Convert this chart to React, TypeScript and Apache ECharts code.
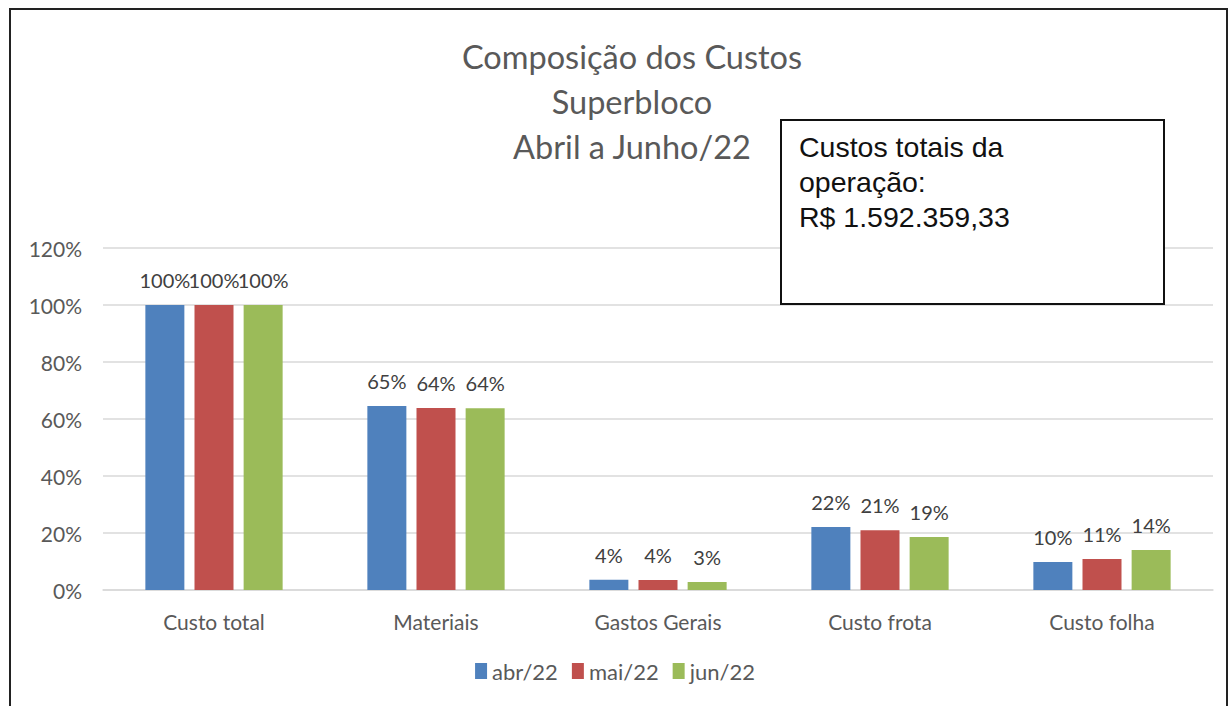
import React, { useEffect, useRef } from "react";
import * as echarts from "echarts";

const categories = ["Custo total", "Materiais", "Gastos Gerais", "Custo frota", "Custo folha"];
const seriesNames = ["abr/22", "mai/22", "jun/22"];
const abr22 = [100, 64.6, 3.6, 22.1, 9.8];
const mai22 = [100, 63.9, 3.5, 21.0, 10.9];
const jun22 = [100, 63.8, 2.8, 18.6, 14.0];
const colors = ["#4f81bd", "#c0504d", "#9bbb59"];
const titleLines = ["Composição dos Custos", "Superbloco", "Abril a Junho/22"];
const boxLines = ["Custos totais da", "operação:", "R$ 1.592.359,33"];

const FONT = "Lato, 'Open Sans', sans-serif";

export default function App() {
  const ref = useRef<HTMLDivElement>(null);
  useEffect(() => {
    if (!ref.current) return;
    const chart = echarts.init(ref.current, undefined, { renderer: "svg" });
    const values = [abr22, mai22, jun22];
    chart.setOption({
      animation: false,
      backgroundColor: "#ffffff",
      textStyle: { fontFamily: FONT },
      title: {
        text: titleLines.join("\n"),
        left: 627,
        top: 29,
        textAlign: "center",
        textStyle: { fontFamily: FONT, fontSize: 32.5, fontWeight: "normal", color: "#595959", lineHeight: 45 },
      },
      legend: {
        data: seriesNames,
        bottom: 19,
        left: "center",
        itemWidth: 12,
        itemHeight: 16,
        itemGap: 14,
        icon: "rect",
        textStyle: { fontFamily: FONT, fontSize: 22, color: "#595959" },
      },
      grid: { left: 103, right: 17, top: 248, bottom: 116, containLabel: false },
      xAxis: {
        type: "category",
        data: categories,
        axisLine: { lineStyle: { color: "#d9d9d9", width: 1.5 } },
        axisTick: { show: false },
        axisLabel: { fontFamily: FONT, fontSize: 21, color: "#595959", margin: 21 },
      },
      yAxis: {
        type: "value",
        min: 0,
        max: 120,
        interval: 20,
        axisLabel: { fontFamily: FONT, fontSize: 21, color: "#595959", formatter: "{value}%", margin: 21 },
        splitLine: { lineStyle: { color: "#d9d9d9", width: 1.5 } },
        axisLine: { show: false },
        axisTick: { show: false },
      },
      series: seriesNames.map((name, i) => ({
        name,
        type: "bar",
        data: values[i],
        barWidth: 39,
        barGap: "26%",
        itemStyle: { color: colors[i] },
        label: {
          show: true,
          position: "top",
          distance: 15,
          fontFamily: FONT,
          fontSize: 20,
          color: "#404040",
          formatter: (p: any) => `${Number(p.value).toFixed(0)}%`,
        },
      })),
      graphic: [
        {
          type: "rect",
          shape: { x: 10, y: 9, width: 1217, height: 720 },
          style: { fill: "none", stroke: "#222222", lineWidth: 2 },
          silent: true,
          z: 100,
        },
        {
          type: "rect",
          shape: { x: 781, y: 120, width: 383, height: 184 },
          style: { fill: "#ffffff", stroke: "#111111", lineWidth: 2 },
          z: 100,
        },
        {
          type: "text",
          x: 799,
          y: 129,
          z: 101,
          style: {
            text: boxLines.join("\n"),
            font: "28.5px 'Liberation Sans', Arial, sans-serif",
            fill: "#111111",
            lineHeight: 35,
          },
        },
      ],
    });
    return () => chart.dispose();
  }, []);
  return <div ref={ref} style={{ position: "fixed", left: 0, top: 0, width: 1230, height: 706 }} />;
}
